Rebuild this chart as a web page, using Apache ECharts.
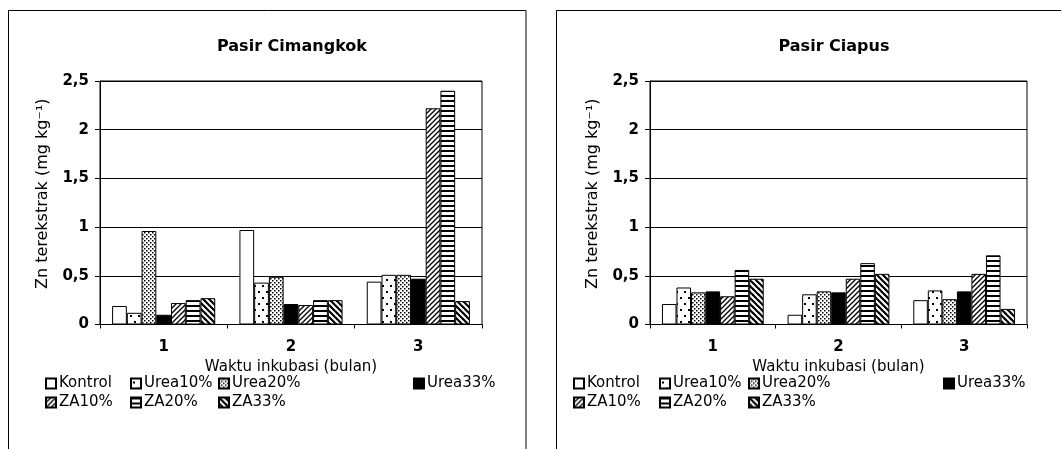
<!DOCTYPE html>
<html><head><meta charset="utf-8">
<script src="https://cdn.jsdelivr.net/npm/echarts@6/dist/echarts.min.js"></script>
<style>html,body{margin:0;padding:0;background:#fff}
#wrap{position:relative;width:1061px;height:449px;overflow:hidden}
#c0{position:absolute;left:0;top:0;width:530px;height:449px}
#c1{position:absolute;left:530px;top:0;width:531px;height:449px}</style>
</head><body><div id="wrap"><div id="c0"></div><div id="c1"></div></div>
<script>
const categories = ['1', '2', '3'];
const seriesNames = ['Kontrol', 'Urea10%', 'Urea20%', 'Urea33%', 'ZA10%', 'ZA20%', 'ZA33%'];
const yTickLabels = ['0', '0,5', '1', '1,5', '2', '2,5'];
const titles = ['Pasir Cimangkok', 'Pasir Ciapus'];
const xAxisTitle = 'Waktu inkubasi (bulan)';
const yAxisTitle = 'Zn terekstrak (mg kg\u207B\u00B9)';

// Pasir Cimangkok
const cimKontrol = [0.19, 0.97, 0.44];
const cimUrea10 = [0.12, 0.43, 0.51];
const cimUrea20 = [0.96, 0.49, 0.51];
const cimUrea33 = [0.10, 0.21, 0.47];
const cimZA10 = [0.22, 0.20, 2.22];
const cimZA20 = [0.25, 0.25, 2.40];
const cimZA33 = [0.27, 0.25, 0.24];
// Pasir Ciapus
const ciaKontrol = [0.21, 0.10, 0.25];
const ciaUrea10 = [0.38, 0.31, 0.35];
const ciaUrea20 = [0.33, 0.34, 0.26];
const ciaUrea33 = [0.34, 0.33, 0.34];
const ciaZA10 = [0.29, 0.47, 0.52];
const ciaZA20 = [0.56, 0.63, 0.71];
const ciaZA33 = [0.47, 0.52, 0.16];

const chartData = [
  [cimKontrol, cimUrea10, cimUrea20, cimUrea33, cimZA10, cimZA20, cimZA33],
  [ciaKontrol, ciaUrea10, ciaUrea20, ciaUrea33, ciaZA10, ciaZA20, ciaZA33]
];

function makePattern(kind) {
  const c = document.createElement('canvas');
  const ctx = c.getContext('2d');
  if (kind === 'blank') {
    c.width = 4; c.height = 4; ctx.fillStyle = '#fff'; ctx.fillRect(0, 0, 4, 4);
  } else if (kind === 'sparse') {
    c.width = 8; c.height = 12; ctx.fillStyle = '#fff'; ctx.fillRect(0, 0, 8, 12);
    ctx.fillStyle = '#000'; ctx.fillRect(2, 3, 2, 2); ctx.fillRect(6, 9, 2, 2);
  } else if (kind === 'dense') {
    c.width = 4; c.height = 4; ctx.fillStyle = '#fff'; ctx.fillRect(0, 0, 4, 4);
    ctx.fillStyle = '#000'; ctx.fillRect(0, 0, 1.5, 1.5); ctx.fillRect(2, 2, 1.5, 1.5);
  } else if (kind === 'solid') {
    c.width = 4; c.height = 4; ctx.fillStyle = '#000'; ctx.fillRect(0, 0, 4, 4);
  } else if (kind === 'fwd') {
    c.width = 5; c.height = 5; ctx.fillStyle = '#fff'; ctx.fillRect(0, 0, 5, 5);
    ctx.strokeStyle = '#000'; ctx.lineWidth = 1.3;
    for (let k = -1; k <= 1; k++) { ctx.beginPath(); ctx.moveTo(k * 5 - 1, 6); ctx.lineTo(k * 5 + 6, -1); ctx.stroke(); }
  } else if (kind === 'horiz') {
    c.width = 4; c.height = 5; ctx.fillStyle = '#fff'; ctx.fillRect(0, 0, 4, 5);
    ctx.fillStyle = '#000'; ctx.fillRect(0, 0, 4, 2);
  } else if (kind === 'back') {
    c.width = 6; c.height = 6; ctx.fillStyle = '#fff'; ctx.fillRect(0, 0, 6, 6);
    ctx.strokeStyle = '#000'; ctx.lineWidth = 2.2;
    for (let k = -1; k <= 1; k++) { ctx.beginPath(); ctx.moveTo(k * 6 - 1, -1); ctx.lineTo(k * 6 + 7, 7); ctx.stroke(); }
  }
  return { image: c, repeat: 'repeat' };
}
const patternKinds = ['blank', 'sparse', 'dense', 'solid', 'fwd', 'horiz', 'back'];
const fills = patternKinds.map(makePattern);

const FONT = 'DejaVu Sans';
// per-chart layout (local coordinates of each chart's own canvas)
const layouts = [
  { grid: { left: 100, top: 81, width: 382, height: 243.5 }, titleX: 292, frameX: 8.5, frameW: 517.5,
    legendCols: [45, 130, 218, 413] },
  { grid: { left: 120, top: 81, width: 377, height: 243.5 }, titleX: 304, frameX: 26.5, frameW: 600,
    legendCols: [43, 129, 218, 413] }
];
const legendRows = [376, 395];

function buildOption(ci) {
  const L = layouts[ci];
  const opt = {
    backgroundColor: '#fff',
    animation: false,
    title: {
      text: titles[ci], left: L.titleX, top: 39, textAlign: 'center', padding: 0,
      textStyle: { fontFamily: FONT, fontSize: 16, fontWeight: 'bold', color: '#000' }
    },
    grid: Object.assign({ show: true, borderColor: '#000', borderWidth: 1, backgroundColor: 'transparent' }, L.grid),
    xAxis: {
      type: 'category', data: categories, position: 'bottom',
      axisLine: { lineStyle: { color: '#000', width: 1 } },
      axisTick: { show: true, length: 4, lineStyle: { color: '#000' } },
      axisLabel: { show: true, interval: 0, margin: 15, fontFamily: FONT, fontSize: 15, fontWeight: 'bold', color: '#000' },
      name: xAxisTitle, nameLocation: 'middle', nameGap: 33,
      nameTextStyle: { fontFamily: FONT, fontSize: 15, color: '#000' }
    },
    yAxis: {
      type: 'value', min: 0, max: 2.5, interval: 0.5,
      axisLine: { show: true, lineStyle: { color: '#000', width: 1 } },
      axisTick: { show: true, length: 5, lineStyle: { color: '#000' } },
      splitLine: { show: true, lineStyle: { color: '#000', width: 1 } },
      axisLabel: { margin: 11, fontFamily: FONT, fontSize: 15, fontWeight: 'bold', color: '#000',
        formatter: v => yTickLabels[Math.round(v / 0.5)] },
      name: yAxisTitle, nameLocation: 'middle', nameGap: 49, nameRotate: 90,
      nameTextStyle: { fontFamily: FONT, fontSize: 16, color: '#000', padding: [0, 0, 0, 18] }
    },
    legend: [],
    series: [],
    graphic: [
      { id: 'frame', type: 'rect', shape: { x: L.frameX, y: 10.5, width: L.frameW, height: 500 },
        style: { fill: 'none', stroke: '#000', lineWidth: 1 }, silent: true }
    ]
  };
  chartData[ci].forEach((vals, si) => {
    opt.series.push({
      type: 'bar', name: seriesNames[si], data: vals, barGap: '0%', barCategoryGap: '19%',
      itemStyle: { color: fills[si], borderColor: '#000', borderWidth: 1 },
      emphasis: { disabled: true }
    });
  });
  seriesNames.forEach((nm, si) => {
    const row = si < 4 ? 0 : 1;
    const col = si < 4 ? si : si - 4;
    opt.legend.push({
      data: [nm], left: L.legendCols[col], top: legendRows[row], padding: 0, itemGap: 0,
      itemWidth: 10, itemHeight: 10, icon: 'rect',
      textStyle: { fontFamily: FONT, fontSize: 15, color: '#000', padding: [0, 0, 0, -2] }
    });
  });
  return opt;
}

[0, 1].forEach(ci => {
  const chart = echarts.init(document.getElementById('c' + ci), null, { renderer: 'canvas' });
  chart.setOption(buildOption(ci));
});
</script>
</body></html>
